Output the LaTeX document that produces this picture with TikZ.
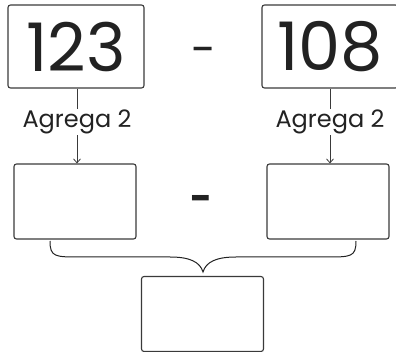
\documentclass[tikz,border=0pt]{standalone}
\usepackage{fontspec}
\setmainfont{Poppins}
\usetikzlibrary{arrows.meta}
\definecolor{boxline}{HTML}{3A3A3A}
\definecolor{ink}{HTML}{222222}
\tikzset{
  box/.style={draw=boxline, line width=1.1pt, rounded corners=2.5pt, inner sep=0pt, text=ink},
  bigbox/.style={box, minimum width=136pt, minimum height=83pt, font=\fontsize{67}{67}\selectfont},
  smallbox/.style={box, minimum width=122pt, minimum height=75pt},
  lbl/.style={text=ink, font=\fontsize{24}{24}\selectfont, inner sep=1pt},
  link/.style={draw=boxline, line width=0.8pt},
  minus/.style={text=ink, inner sep=0pt},
}
\begin{document}
\begin{tikzpicture}[x=1pt,y=-1pt]
\useasboundingbox (0,0) rectangle (396,352);
\begin{scope}
\clip (0,0) rectangle (396,352);
\node[bigbox] (a) at (76,46.5) {123};
\node[bigbox] (b) at (330,46.5) {108};
\end{scope}
\node[minus, font=\fontsize{45}{45}\selectfont] (m1) at (203.5,56) {-};
\node[lbl] (la) at (77,122) {Agrega 2};
\node[lbl] (lb) at (330,122) {Agrega 2};
\node[smallbox] (c) at (75,201.5) {};
\node[smallbox] (d) at (328,201.5) {};
\node[minus, font=\fontsize{38}{38}\selectfont\bfseries] (m2) at (202,203.5) {-};
\node[smallbox] (e) at (202.5,314) {};
\draw[link] (a.south -| la) -- (la.north);
\draw[link] (b.south -| lb) -- (lb.north);
\draw[link, -{Straight Barb[length=4pt,width=7pt]}] (la.south) -- (la.south |- c.north);
\draw[link, -{Straight Barb[length=4pt,width=7pt]}] (lb.south) -- (lb.south |- d.north);
\coordinate (bl) at (50,241);
\coordinate (br) at (356,241);
\coordinate (tip) at (203,272);
\draw[line width=1pt, ink] (bl) .. controls (50,257) and (55,257) .. (80,257) -- (170,257)
  .. controls (190,257) and (200,262) .. (tip)
  .. controls (206,262) and (216,257) .. (236,257) -- (326,257)
  .. controls (351,257) and (356,257) .. (br);
\end{tikzpicture}
\end{document}
